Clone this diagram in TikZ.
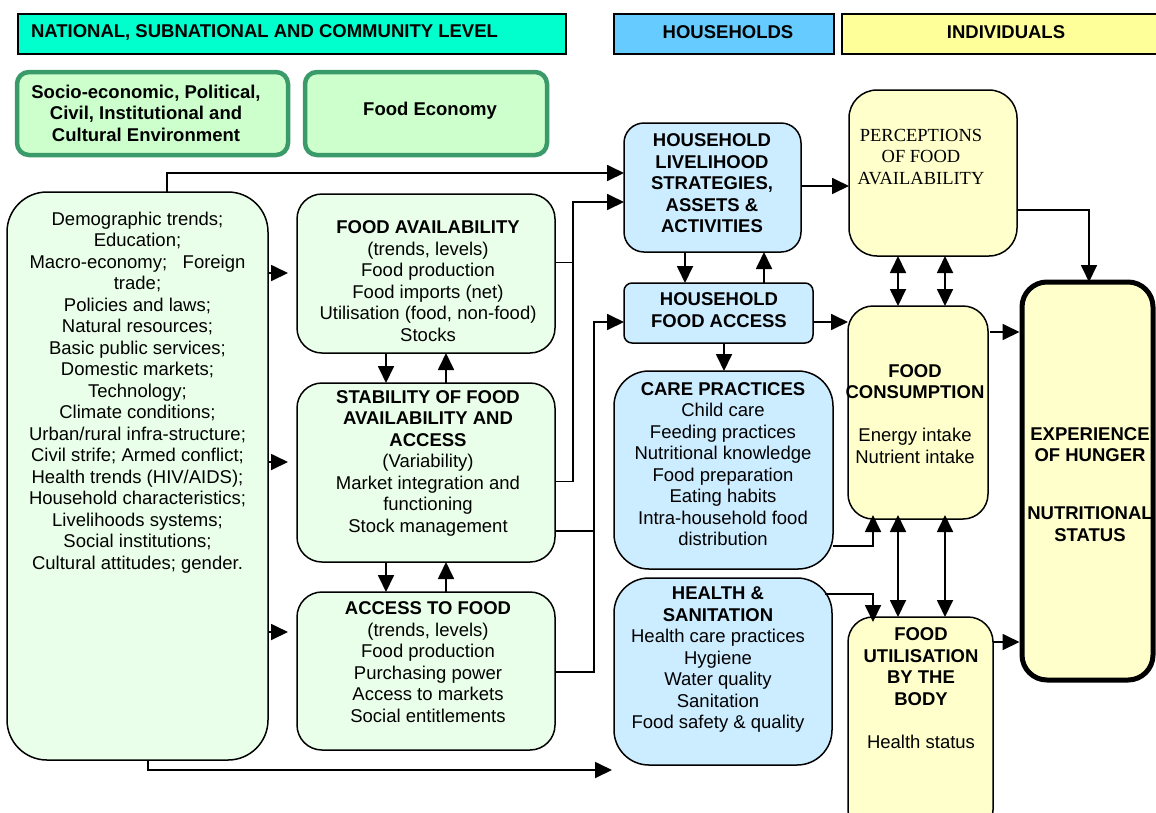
\documentclass[tikz,border=0pt]{standalone}
\usepackage{fontspec}
\setmainfont{Liberation Sans}
\newfontfamily\tms{Liberation Serif}
\usetikzlibrary{arrows.meta}
\definecolor{cnat}{HTML}{00FFCC}
\definecolor{chh}{HTML}{66CCFF}
\definecolor{cind}{HTML}{FFFF99}
\definecolor{cgreen}{HTML}{CCFFCC}
\definecolor{cgborder}{HTML}{3A9A6A}
\definecolor{clg}{HTML}{EAFFEA}
\definecolor{cblue}{HTML}{CCECFF}
\definecolor{cyel}{HTML}{FFFFCC}
\begin{document}
\begin{tikzpicture}[x=1pt,y=-1pt,
  every node/.style={inner sep=0pt, outer sep=0pt},
  txt/.style={font=\fontsize{18.5}{21.5}\selectfont, align=center},
  hdr/.style={draw, line width=1.5pt, rectangle},
  box/.style={draw, line width=1.5pt, rectangle},
  envbox/.style={draw=cgborder, line width=4.5pt, rectangle, rounded corners=12pt, fill=cgreen},
  arr/.style={line width=1.8pt, -{Triangle[length=17pt,width=16pt]}},
  dbl/.style={line width=1.8pt, {Triangle[length=17pt,width=16pt]}-{Triangle[length=17pt,width=16pt]}},
  ln/.style={line width=1.8pt}
]
\useasboundingbox[fill=white] (0,0) rectangle (1156,812);

% headers
\node[hdr, fill=cnat, minimum width=548pt, minimum height=40pt] (hnat) at (292,34) {};
\node[txt, anchor=west, font=\fontsize{18.5}{21.5}\selectfont\bfseries] (tnat) at (31,32) {NATIONAL, SUBNATIONAL AND COMMUNITY LEVEL};
\node[hdr, fill=chh, minimum width=220pt, minimum height=40pt] (hhh) at (724,34) {};
\node[txt, font=\fontsize{18.5}{21.5}\selectfont\bfseries] (thh) at (728,32) {HOUSEHOLDS};
\node[hdr, fill=cind, minimum width=333pt, minimum height=40pt] (hind) at (1008.5,34) {};
\node[txt, font=\fontsize{18.5}{21.5}\selectfont\bfseries] (tind) at (1006,32) {INDIVIDUALS};

% environment boxes
\node[envbox, minimum width=271pt, minimum height=83pt] (socio) at (152.5,113.5) {};
\node[txt] (tsocio) at (146,113) {\textbf{Socio-economic, Political,}\\\textbf{Civil, Institutional and}\\\textbf{Cultural Environment}};
\node[envbox, minimum width=242pt, minimum height=83pt] (econ) at (426,113.5) {};
\node[txt] (tecon) at (430,111) {\textbf{Food Economy}};

% left big box
\node[box, fill=clg, rounded corners=40pt, minimum width=261pt, minimum height=568pt] (left) at (137.5,476) {};
\node[txt] (tleft) at (137.5,392.5) {Demographic trends;\\Education;\\Macro-economy;\ \ \ Foreign\\trade;\\Policies and laws;\\Natural resources;\\Basic public services;\\Domestic markets;\\Technology;\\Climate conditions;\\Urban/rural infra-structure;\\Civil strife; Armed conflict;\\Health trends (HIV/AIDS);\\Household characteristics;\\Livelihoods systems;\\Social institutions;\\Cultural attitudes; gender.};

% food economy boxes
\node[box, fill=clg, rounded corners=25pt, minimum width=258pt, minimum height=159pt] (fa) at (426,273.5) {};
\node[txt] (tfa) at (428,281) {\textbf{FOOD AVAILABILITY}\\(trends, levels)\\Food production\\Food imports (net)\\Utilisation (food, non-food)\\Stocks};
\node[box, fill=clg, rounded corners=25pt, minimum width=258pt, minimum height=179pt] (stab) at (426,472.5) {};
\node[txt] (tstab) at (428,463) {\textbf{STABILITY OF FOOD}\\\textbf{AVAILABILITY AND}\\\textbf{ACCESS}\\(Variability)\\Market integration and\\functioning\\Stock management};
\node[box, fill=clg, rounded corners=25pt, minimum width=258pt, minimum height=158pt] (acc) at (426,671) {};
\node[txt] (tacc) at (428,662) {\textbf{ACCESS TO FOOD}\\(trends, levels)\\Food production\\Purchasing power\\Access to markets\\Social entitlements};

% household boxes
\node[box, fill=cblue, rounded corners=20pt, minimum width=177pt, minimum height=129pt] (hl) at (712.5,187.5) {};
\node[txt] (thl) at (712,183.5) {\textbf{HOUSEHOLD}\\\textbf{LIVELIHOOD}\\\textbf{STRATEGIES,}\\\textbf{ASSETS \&}\\\textbf{ACTIVITIES}};
\node[box, fill=cblue, rounded corners=8pt, minimum width=189pt, minimum height=60pt] (hfa) at (718.5,313) {};
\node[txt] (thfa) at (719,310) {\textbf{HOUSEHOLD}\\\textbf{FOOD ACCESS}};
\node[box, fill=cblue, rounded corners=35pt, minimum width=219pt, minimum height=198pt] (care) at (723.5,470) {};
\node[txt] (tcare) at (723,464) {\textbf{CARE PRACTICES}\\Child care\\Feeding practices\\Nutritional knowledge\\Food preparation\\Eating habits\\Intra-household food\\distribution};
\node[box, fill=cblue, rounded corners=35pt, minimum width=218pt, minimum height=187pt] (health) at (723,671.5) {};
\node[txt] (thealth) at (718,660) {\textbf{HEALTH \&}\\\textbf{SANITATION}\\Health care practices\\Hygiene\\Water quality\\Sanitation\\Food safety \& quality};

% individual boxes
\node[box, fill=cyel, rounded corners=28pt, minimum width=168pt, minimum height=166pt] (perc) at (933,173) {};
\node[txt, font=\tms\fontsize{18.5}{21.3}\selectfont] (tperc) at (921,157) {PERCEPTIONS\\OF FOOD\\AVAILABILITY};
\node[box, fill=cyel, rounded corners=25pt, minimum width=140pt, minimum height=213pt] (fc) at (918,412.5) {};
\node[txt] (tfc) at (915,414) {\textbf{FOOD}\\\textbf{CONSUMPTION}\\[21.5pt]Energy intake\\Nutrient intake};
\node[box, fill=cyel, rounded corners=25pt, minimum width=145pt, minimum height=218pt] (fu) at (920.5,726) {};
\node[txt] (tfu) at (921,688) {\textbf{FOOD}\\\textbf{UTILISATION}\\\textbf{BY THE}\\\textbf{BODY}\\[21.5pt]Health status};
\node[draw, line width=5pt, rectangle, rounded corners=25pt, fill=cyel, minimum width=131pt, minimum height=398pt] (exp) at (1087.5,481) {};
\node[txt] (texp1) at (1090,444.5) {\textbf{EXPERIENCE}\\\textbf{OF HUNGER}};
\node[txt] (texp2) at (1090,524) {\textbf{NUTRITIONAL}\\\textbf{STATUS}};

% connectors from the left box
\draw[arr] (left.north -| 167,0) |- (hl.west |- 0,173);
\draw[arr, shorten >=9pt] (left.east |- 0,273) -- (fa.west |- 0,273);
\draw[arr, shorten >=9pt] (left.east |- 0,462) -- (stab.west |- 0,462);
\draw[arr, shorten >=9pt] (left.east |- 0,632) -- (acc.west |- 0,632);
\coordinate (hsend) at (612,770);
\draw[arr] (left.south -| 148,0) |- (hsend);

% between food economy boxes
\draw[arr] (fa.south -| 386,0) -- (stab.north -| 386,0);
\draw[arr] (stab.north -| 446,0) -- (fa.south -| 446,0);
\draw[arr] (stab.south -| 386,0) -- (acc.north -| 386,0);
\draw[arr] (acc.north -| 446,0) -- (stab.south -| 446,0);

% to household boxes
\draw[ln] (fa.east |- 0,262.5) -- (573,262.5);
\draw[arr] (stab.east |- 0,481.5) -| (573,202) -- (hl.west |- 0,202);
\draw[ln] (stab.east |- 0,531) -- (594,531);
\draw[arr] (acc.east |- 0,672) -| (594,322) -- (hfa.west |- 0,322);

% household internal
\draw[arr] (hl.south -| 685,0) -- (hfa.north -| 685,0);
\draw[arr] (hfa.north -| 764,0) -- (hl.south -| 764,0);
\draw[arr] (hfa.south -| 724,0) -- (care.north -| 724,0);

% to individuals
\draw[arr] (hl.east |- 0,186) -- (perc.west |- 0,186);
\draw[arr] (hfa.east |- 0,322) -- (fc.west |- 0,322);
\draw[arr] (perc.east |- 0,210) -| (exp.north -| 1089,0);
\draw[dbl] (perc.south -| 898,0) -- (fc.north -| 898,0);
\draw[dbl] (perc.south -| 945,0) -- (fc.north -| 945,0);
\draw[dbl, shorten <=-4pt] (fc.south -| 898,0) -- (fu.north -| 898,0);
\draw[dbl, shorten <=-4pt] (fc.south -| 945,0) -- (fu.north -| 945,0);
\draw[arr, shorten >=-4pt] (care.east |- 0,546) -| (fc.south -| 873,0);
\draw[arr, shorten >=-5pt] ([xshift=-7pt]health.east |- 0,594) -| (fu.north -| 873,0);
\draw[arr, shorten >=2.5pt] ([xshift=2pt]fc.east |- 0,332) -- (exp.west |- 0,332);
\draw[arr, shorten >=2.5pt] (fu.east |- 0,642) -- (exp.west |- 0,642);
\end{tikzpicture}
\end{document}
